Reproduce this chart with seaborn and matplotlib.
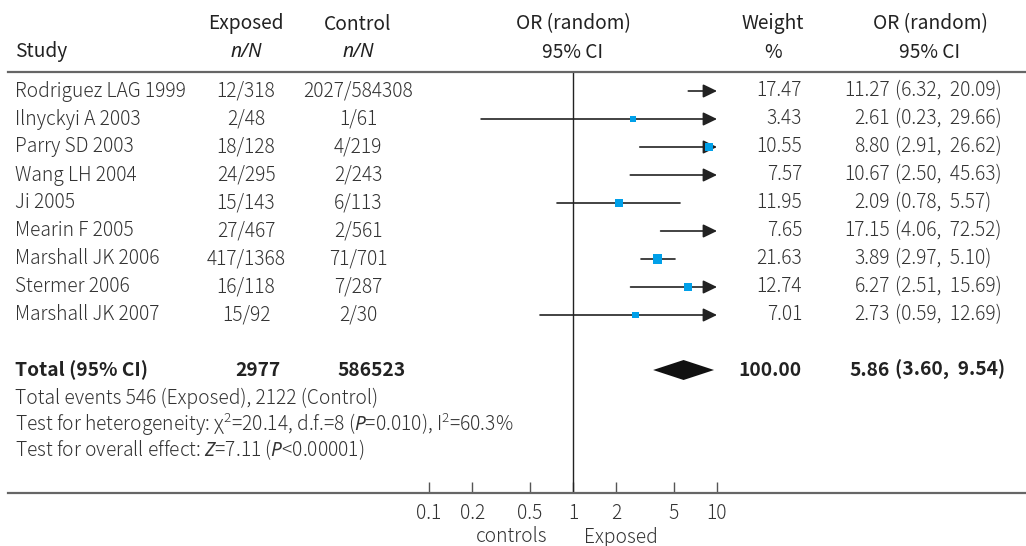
import matplotlib
matplotlib.use("Agg")
import matplotlib.pyplot as plt
from matplotlib.ticker import NullLocator
import numpy as np
import pandas as pd
import seaborn as sns

# ---------------- data ----------------
studies = ["Rodriguez LAG 1999", "Ilnyckyi A 2003", "Parry SD 2003", "Wang LH 2004",
           "Ji 2005", "Mearin F 2005", "Marshall JK 2006", "Stermer 2006", "Marshall JK 2007"]
exposed_nN = ["12/318", "2/48", "18/128", "24/295", "15/143", "27/467", "417/1368", "16/118", "15/92"]
control_nN = ["2027/584308", "1/61", "4/219", "2/243", "6/113", "2/561", "71/701", "7/287", "2/30"]
odds_ratio = [11.27, 2.61, 8.80, 10.67, 2.09, 17.15, 3.89, 6.27, 2.73]
ci_low = [6.32, 0.23, 2.91, 2.50, 0.78, 4.06, 2.97, 2.51, 0.59]
ci_high = [20.09, 29.66, 26.62, 45.63, 5.57, 72.52, 5.10, 15.69, 12.69]
weights = [17.47, 3.43, 10.55, 7.57, 11.95, 7.65, 21.63, 12.74, 7.01]

total_or, total_low, total_high = 5.86, 3.60, 9.54
total_exposed, total_control, total_weight = 2977, 586523, 100.00

x_ticks = [0.1, 0.2, 0.5, 1, 2, 5, 10]
x_tick_labels = ["0.1", "0.2", "0.5", "1", "2", "5", "10"]

# ---------------- style ----------------
sns.set_theme(style="white")
FONT = ["Noto Sans CJK JP", "DejaVu Sans"]
plt.rcParams["font.family"] = FONT
plt.rcParams["mathtext.fontset"] = "custom"
plt.rcParams["mathtext.rm"] = "Noto Sans CJK JP:light"
plt.rcParams["mathtext.it"] = "Noto Sans:italic:light"
plt.rcParams["mathtext.bf"] = "Noto Sans CJK JP:bold"

TXT = "#333333"
HDR = "#222222"
LINE = "#222222"
RULE = "#666666"
BLUE = "#00A0E9"
FS = 13.8
LIGHT = "light"

W, H = 1026, 546
fig = plt.figure(figsize=(W / 100, H / 100), dpi=100)

# layout in pixels (top-origin)
X_ONE, PX_DEC = 573.0, 144.0
AX_L, AX_R, AX_T, AX_B = 8, 1026, 72, 493
ROW0, STEP = 91.0, 28.0
Y_TOTAL = 370.0
PLOT_MAX = 10

def to_log(px):
    return (px - X_ONE) / PX_DEC

ax = fig.add_axes([AX_L / W, 1 - AX_B / H, (AX_R - AX_L) / W, (AX_B - AX_T) / H])
ax.set_xscale("log")
ax.set_xlim(10 ** to_log(AX_L), 10 ** to_log(AX_R))
ax.set_ylim(AX_B, AX_T)

rows_y = [ROW0 + i * STEP for i in range(len(studies))]
df = pd.DataFrame({"study": studies, "or": odds_ratio, "lo": ci_low, "hi": ci_high,
                   "weight": weights, "y": rows_y})

# CI lines / arrows
for _, r in df.iterrows():
    if r["hi"] > PLOT_MAX:
        ax.annotate("", xy=(PLOT_MAX, r["y"]), xytext=(r["lo"], r["y"]),
                    arrowprops=dict(arrowstyle="-|>,head_length=0.7,head_width=0.34",
                                    color=LINE, lw=1.2, shrinkA=0, shrinkB=0,
                                    mutation_scale=12), zorder=3)
    else:
        ax.plot([r["lo"], r["hi"]], [r["y"], r["y"]], color=LINE, lw=1.2, zorder=3)

visible = df[df["or"] <= PLOT_MAX]
sns.scatterplot(data=visible, x="or", y="y", size="weight", sizes=(20, 42),
                size_norm=(visible["weight"].min(), visible["weight"].max()),
                marker="s", color=BLUE, linewidth=0, legend=False, ax=ax, zorder=5)

# pooled diamond
ax.fill([total_low, total_or, total_high, total_or],
        [Y_TOTAL, Y_TOTAL - 10, Y_TOTAL, Y_TOTAL + 10], color="#111111", zorder=5, lw=0)

ax.axvline(1, color=LINE, lw=1.0, zorder=2)

# axes styling
for s in ["left", "right"]:
    ax.spines[s].set_visible(False)
for s in ["top", "bottom"]:
    ax.spines[s].set_visible(True)
    ax.spines[s].set_color(RULE)
    ax.spines[s].set_linewidth(1.6)
ax.set_xticks(x_ticks)
ax.set_xticklabels(x_tick_labels, fontweight=LIGHT)
ax.xaxis.set_minor_locator(NullLocator())
ax.set_yticks([])
ax.tick_params(axis="x", which="major", direction="in", length=8, width=1.0,
               color="#555555", pad=7, labelsize=FS, labelcolor=TXT, top=False, bottom=True)
ax.set_xlabel("")
ax.set_ylabel("")

def txt(x, y, s, ha="left", color=TXT, weight=LIGHT, **kw):
    fig.text(x / W, 1 - y / H, s, ha=ha, va="center", color=color, fontsize=FS,
             fontweight=weight, **kw)

# headers
txt(246, 24, "Exposed", "center", HDR, "normal")
txt(358, 24, "Control", "center", HDR, "normal")
txt(573, 24, "OR (random)", "center", HDR, "normal")
txt(773, 24, "Weight", "center", HDR, "normal")
txt(930, 24, "OR (random)", "center", HDR, "normal")
txt(15, 52, "Study", "left", HDR, "normal")
txt(246, 52, "n/N", "center", HDR, "normal", family=["Noto Sans", "DejaVu Sans"], style="italic")
txt(358, 52, "n/N", "center", HDR, "normal", family=["Noto Sans", "DejaVu Sans"], style="italic")
txt(573, 52, "95% CI", "center", HDR, "normal")
txt(773, 52, "%", "center", HDR, "normal")
txt(930, 52, "95% CI", "center", HDR, "normal")

# study rows
for i, y in enumerate(rows_y):
    txt(15, y, studies[i])
    txt(246, y, exposed_nN[i], "center")
    txt(358, y, control_nN[i], "center")
    txt(802, y, f"{weights[i]:.2f}", "right")
    txt(890, y, f"{odds_ratio[i]:.2f}", "right")
    txt(895, y, f"({ci_low[i]:.2f},  {ci_high[i]:.2f})", "left")

# total row
txt(15, Y_TOTAL, "Total (95% CI)", weight="bold", color=HDR)
txt(258, Y_TOTAL, f"{total_exposed}", "center", weight="bold", color=HDR)
txt(372, Y_TOTAL, f"{total_control}", "center", weight="bold", color=HDR)
txt(802, Y_TOTAL, f"{total_weight:.2f}", "right", weight="bold", color=HDR)
txt(890, Y_TOTAL, f"{total_or:.2f}", "right", weight="bold", color=HDR)
txt(895, Y_TOTAL, f"({total_low:.2f},  {total_high:.2f})", "left", weight="bold", color=HDR)

# footnotes
txt(15, 398, "Total events 546 (Exposed), 2122 (Control)")
txt(15, 424, r"Test for heterogeneity: χ$^2$=20.14, d.f.=8 ($P$=0.010), I$^2$=60.3%")
txt(15, 450, r"Test for overall effect: $Z$=7.11 ($P$<0.00001)")

# direction labels
txt(512, 537, "controls", "center")
txt(621, 537, "Exposed", "center")

fig.savefig("out.png", dpi=100)
